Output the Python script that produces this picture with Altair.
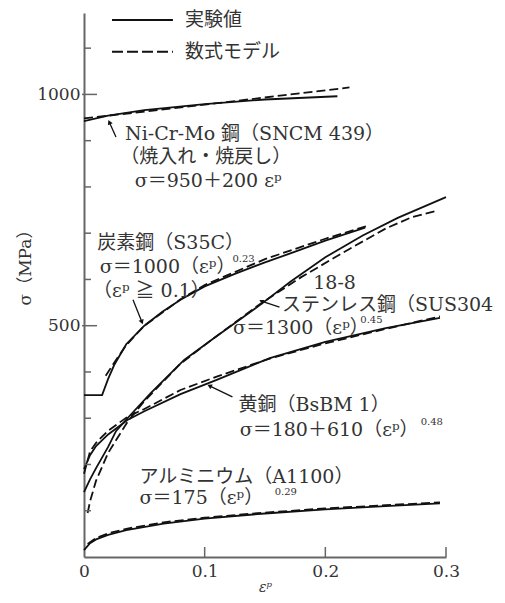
import altair as alt
import pandas as pd

# ---------------- data ----------------
# Ni-Cr-Mo steel (SNCM439)
sncm_exp_e = [0, 0.02, 0.05, 0.1, 0.15, 0.21]
sncm_exp_s = [942, 954, 966, 979, 989, 996]
sncm_mod_e = [0, 0.11, 0.22]
sncm_mod_s = [948, 981, 1015]

# Carbon steel (S35C)
s35c_exp_e = [0, 0.015, 0.02, 0.025, 0.035, 0.05, 0.065, 0.08, 0.1, 0.125, 0.15, 0.175, 0.2, 0.233]
s35c_exp_s = [350, 350, 385, 415, 460, 500, 530, 556, 585, 612, 637, 660, 684, 712]
s35c_mod_e = [0.018, 0.025, 0.035, 0.05, 0.08, 0.1, 0.15, 0.2, 0.235]
s35c_mod_s = [392, 420, 458, 500, 557, 588, 644, 688, 716]

# Stainless steel (SUS304)
sus_exp_e = [0, 0.005, 0.01, 0.02, 0.0265, 0.036, 0.0555, 0.083, 0.107, 0.146, 0.171, 0.2, 0.231, 0.26, 0.3]
sus_exp_s = [140, 168, 192, 238, 272, 300, 355, 426, 472, 545, 595, 648, 695, 733, 778]
sus_mod_e = [0.003, 0.005, 0.01, 0.02, 0.036, 0.05, 0.08, 0.107, 0.146, 0.18, 0.22, 0.25, 0.272, 0.292]
sus_mod_s = [95, 120, 165, 225, 292, 337, 418, 472, 547, 605, 666, 710, 735, 748]

# Brass (BsBM1)
bs_exp_e = [0, 0.005, 0.01, 0.02, 0.036, 0.05, 0.08, 0.11, 0.154, 0.2, 0.25, 0.295]
bs_exp_s = [190, 220, 240, 265, 296, 315, 352, 383, 430, 465, 495, 517]
bs_mod_e = [0, 0.005, 0.01, 0.02, 0.036, 0.05, 0.08, 0.11, 0.154, 0.2, 0.25, 0.295]
bs_mod_s = [180, 228, 247, 273, 303, 320, 361, 390, 429, 462, 493, 520]

# Aluminium (A1100)
al_exp_e = [0, 0.005, 0.01, 0.02, 0.035, 0.066, 0.1, 0.15, 0.2, 0.25, 0.295]
al_exp_s = [15, 30, 38, 48, 58, 72, 83, 94, 103, 110, 116]
al_mod_e = [0.003, 0.01, 0.02, 0.035, 0.066, 0.1, 0.15, 0.2, 0.25, 0.295]
al_mod_s = [28, 41, 51, 61, 75, 85, 96, 105, 112, 118]

# axis tick values
x_tick_values = [0, 0.1, 0.2, 0.3]
y_label_values = [500, 1000]
y_minor_ticks = [100, 200, 300, 400, 600, 700, 800, 900, 1100]

# legend entries
legend_labels = ["実験値", "数式モデル"]

# annotations (text, eps, sigma)
ann_texts = [
    "Ni‐Cr‐Mo 鋼（SNCM 439）",
    "（焼入れ・焼戻し）",
    "σ＝950＋200 εᵖ",
    "炭素鋼（S35C）",
    "σ＝1000（εᵖ）",
    "（εᵖ ≧ 0.1）",
    "18‐8",
    "ステンレス鋼（SUS304",
    "σ＝1300（εᵖ）",
    "黄銅（BsBM 1）",
    "σ＝180＋610（εᵖ）",
    "アルミニウム（A1100）",
    "σ＝175（εᵖ）",
]
ann_eps = [0.034, 0.030, 0.042, 0.011, 0.013, 0.0075, 0.190, 0.164, 0.1235, 0.128, 0.129, 0.046, 0.046]
ann_sig = [915, 865, 813, 679, 627, 575, 592, 545, 495, 329, 275, 173, 128]

sup_texts = ["0.23", "0.45", "0.48", "0.29"]
sup_eps = [0.123, 0.229, 0.279, 0.158]
sup_sig = [644, 512, 292, 141]

# arrows: tail (eps, sigma) -> tip (eps2, sigma2)
arr_eps = [0.0265, 0.0406, 0.162, 0.123]
arr_sig = [908, 556, 540, 346]
arr_eps2 = [0.021, 0.048, 0.147, 0.104]
arr_sig2 = [940, 508, 553, 370]
arr_ang = [335, 160, 298, 296]

# ---------------- tables ----------------
rows = []
def add(name, kind, es, ss):
    for e, s in zip(es, ss):
        rows.append({"eps": e, "sigma": s, "curve": name, "kind": kind})

add("SNCM", "exp", sncm_exp_e, sncm_exp_s)
add("SNCM", "model", sncm_mod_e, sncm_mod_s)
add("S35C", "exp", s35c_exp_e, s35c_exp_s)
add("S35C", "model", s35c_mod_e, s35c_mod_s)
add("SUS", "exp", sus_exp_e, sus_exp_s)
add("SUS", "model", sus_mod_e, sus_mod_s)
add("BS", "exp", bs_exp_e, bs_exp_s)
add("BS", "model", bs_mod_e, bs_mod_s)
add("AL", "exp", al_exp_e, al_exp_s)
add("AL", "model", al_mod_e, al_mod_s)
curves = pd.DataFrame(rows)

ann = pd.DataFrame({"text": ann_texts, "eps": ann_eps, "sigma": ann_sig})
sup = pd.DataFrame({"text": sup_texts, "eps": sup_eps, "sigma": sup_sig})
arrows = pd.DataFrame({"eps": arr_eps, "sigma": arr_sig, "eps2": arr_eps2,
                       "sigma2": arr_sig2, "ang": arr_ang})
legend = pd.DataFrame({"label": legend_labels, "kind": ["exp", "model"],
                       "eps": [0.0232, 0.0232], "eps2": [0.0737, 0.0737],
                       "eps3": [0.0837, 0.0837], "sigma": [1161, 1092]})
xticks = pd.DataFrame({"eps": x_tick_values[1:]})
ymajor = pd.DataFrame({"sigma": y_label_values})
yminor = pd.DataFrame({"sigma": y_minor_ticks})

# ---------------- styling ----------------
FONT = "DejaVu Serif, Noto Sans CJK JP"
INK = "#111111"
TXT = "#333333"
W, H = 362, 544

xs = alt.Scale(domain=[0, 0.3], nice=False, zero=False)
ys = alt.Scale(domain=[0, 1176], nice=False)

x_axis = alt.Axis(values=x_tick_values,
                  labelExpr="datum.value == 0 ? '0' : format(datum.value, '.1f')",
                  ticks=False, grid=False, domainColor="#666", domainWidth=2,
                  labelFlush=False,
                  labelFont=FONT, labelFontSize=17, labelColor=TXT, labelPadding=6,
                  title="εᵖ", titleFont=FONT, titleFontSize=14, titleFontStyle="italic",
                  titleFontWeight="normal", titleColor=TXT, titleY=30, titleBaseline="middle")
y_axis = alt.Axis(values=y_label_values, format="d", ticks=False, grid=False,
                  domainColor="#666", domainWidth=2, labelFlush=False,
                  labelFont=FONT, labelFontSize=17, labelColor=TXT, labelPadding=4,
                  title="σ（MPa）", titleFont=FONT, titleFontSize=17, titleFontWeight="normal",
                  titleColor=TXT, titleAngle=270, titleX=-59, titleY=250,
                  titleAlign="center", titleBaseline="middle")

X = alt.X("eps:Q", scale=xs, axis=x_axis)
Y = alt.Y("sigma:Q", scale=ys, axis=y_axis)

base = alt.Chart(curves)
solid = base.transform_filter(alt.datum.kind == "exp").mark_line(
    color=INK, strokeWidth=1.8).encode(x=X, y=Y, detail="curve:N")
dashed = base.transform_filter(alt.datum.kind == "model").mark_line(
    color=INK, strokeWidth=1.8, strokeDash=[9, 4]).encode(x=X, y=Y, detail="curve:N")

txt = alt.Chart(ann).mark_text(align="left", baseline="middle", font=FONT,
                               fontSize=19, color=TXT).encode(x=X, y=Y, text="text:N")
suptxt = alt.Chart(sup).mark_text(align="left", baseline="middle", font=FONT,
                                  fontSize=10, color=TXT).encode(x=X, y=Y, text="text:N")

arrow_lines = alt.Chart(arrows).mark_rule(color=INK, strokeWidth=1.3).encode(
    x=X, x2="eps2:Q", y=Y, y2="sigma2:Q")
arrow_heads = alt.Chart(arrows).mark_point(shape="triangle-up", filled=True, size=28,
                                           color=INK, opacity=1).encode(
    x=alt.X("eps2:Q", scale=xs, axis=x_axis), y=alt.Y("sigma2:Q", scale=ys, axis=y_axis),
    angle=alt.Angle("ang:Q", scale=None))

leg_solid = alt.Chart(legend).transform_filter(alt.datum.kind == "exp").mark_rule(
    color=INK, strokeWidth=2).encode(x=X, x2="eps2:Q", y=Y)
leg_dash = alt.Chart(legend).transform_filter(alt.datum.kind == "model").mark_rule(
    color=INK, strokeWidth=2, strokeDash=[11, 4]).encode(x=X, x2="eps2:Q", y=Y)
leg_txt = alt.Chart(legend).mark_text(align="left", baseline="middle", font=FONT,
                                      fontSize=19, color=TXT).encode(
    x=alt.X("eps3:Q", scale=xs, axis=x_axis), y=Y, text="label:N")

xtick_marks = alt.Chart(xticks).mark_rule(color="#666", strokeWidth=1.5).encode(
    x=X, y=alt.value(H), y2=alt.value(H - 10))
ymaj_marks = alt.Chart(ymajor).mark_rule(color="#666", strokeWidth=1.5).encode(
    y=Y, x=alt.value(-2), x2=alt.value(13))
ymin_marks = alt.Chart(yminor).mark_rule(color="#666", strokeWidth=1.5).encode(
    y=Y, x=alt.value(0), x2=alt.value(7))

chart = alt.layer(
    solid, dashed, txt, suptxt, arrow_lines, arrow_heads,
    leg_solid, leg_dash, leg_txt, xtick_marks, ymaj_marks, ymin_marks
).properties(
    width=W, height=H,
    autosize=alt.AutoSizeParams(type="none"),
    padding={"left": 76, "top": 5, "right": 51, "bottom": 38},
    background="white",
).configure_view(stroke=None)

chart.save("out.html", embed_options={"renderer": "svg", "actions": False})
